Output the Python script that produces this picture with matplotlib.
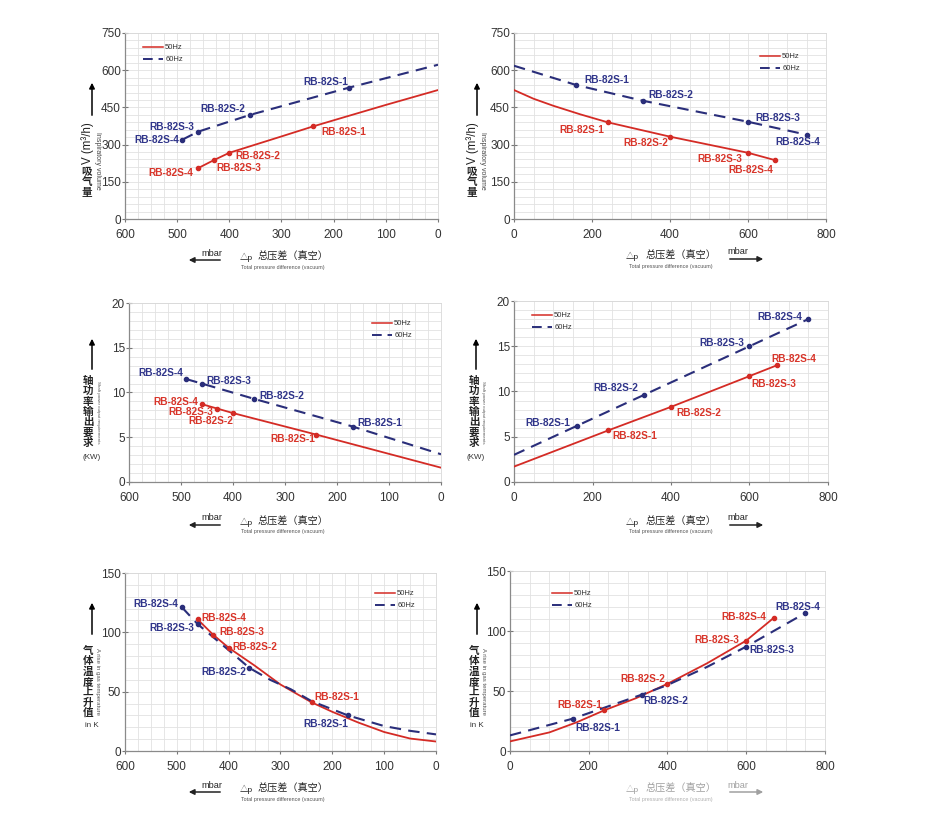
import matplotlib
matplotlib.use('Agg')
import matplotlib.pyplot as plt
from matplotlib.ticker import MultipleLocator
from matplotlib.patches import FancyArrowPatch
from matplotlib.lines import Line2D

plt.rcParams['font.family'] = ['Liberation Sans', 'Noto Sans CJK SC', 'DejaVu Sans']

# ---------------- data ----------------
models = ['RB-82S-1', 'RB-82S-2', 'RB-82S-3', 'RB-82S-4']
series_names = ['50Hz', '60Hz']

# Panel 1 (top-left): inspiratory volume (m3/h) vs pressure difference (axis reversed)
vol_l_50_x = [460, 430, 400, 350, 300, 240, 200, 100, 0]
vol_l_50_y = [205, 237, 267, 300, 333, 373, 398, 460, 520]
vol_l_60_x = [490, 460, 360, 170, 0]
vol_l_60_y = [320, 352, 420, 530, 622]
vol_l_50_pts_x = [240, 400, 430, 460]
vol_l_50_pts_y = [373, 267, 237, 205]
vol_l_60_pts_x = [170, 360, 460, 490]
vol_l_60_pts_y = [530, 420, 352, 320]

# Panel 2 (top-right): inspiratory volume vs pressure difference
vol_r_50_x = [0, 50, 100, 170, 240, 400, 600, 670]
vol_r_50_y = [520, 485, 457, 422, 390, 332, 267, 237]
vol_r_60_x = [0, 160, 330, 600, 750]
vol_r_60_y = [618, 540, 477, 392, 340]
vol_r_50_pts_x = [240, 400, 600, 670]
vol_r_50_pts_y = [390, 332, 267, 237]
vol_r_60_pts_x = [160, 330, 600, 750]
vol_r_60_pts_y = [540, 477, 392, 340]

# Panel 3 (mid-left): shaft power (kW) vs pressure difference (axis reversed)
pow_l_50_x = [460, 430, 400, 240, 0]
pow_l_50_y = [8.7, 8.2, 7.7, 5.3, 1.6]
pow_l_60_x = [490, 460, 360, 170, 0]
pow_l_60_y = [11.5, 11.0, 9.3, 6.2, 3.1]
pow_l_50_pts_x = [240, 400, 430, 460]
pow_l_50_pts_y = [5.3, 7.7, 8.2, 8.7]
pow_l_60_pts_x = [170, 360, 460, 490]
pow_l_60_pts_y = [6.2, 9.3, 11.0, 11.5]

# Panel 4 (mid-right): shaft power vs pressure difference
pow_r_50_x = [0, 240, 400, 600, 670]
pow_r_50_y = [1.7, 5.7, 8.3, 11.7, 12.9]
pow_r_60_x = [0, 160, 330, 600, 750]
pow_r_60_y = [3.0, 6.2, 9.6, 15.0, 18.0]
pow_r_50_pts_x = [240, 400, 600, 670]
pow_r_50_pts_y = [5.7, 8.3, 11.7, 12.9]
pow_r_60_pts_x = [160, 330, 600, 750]
pow_r_60_pts_y = [6.2, 9.6, 15.0, 18.0]

# Panel 5 (bottom-left): gas temperature rise (K) vs pressure difference (axis reversed)
tmp_l_50_x = [460, 430, 400, 350, 300, 240, 200, 150, 100, 50, 0]
tmp_l_50_y = [111, 98, 87, 72, 56, 41, 33, 24, 16, 10.5, 8]
tmp_l_60_x = [490, 460, 400, 360, 320, 280, 240, 170, 100, 50, 0]
tmp_l_60_y = [121, 107, 85, 70, 60, 52, 42, 30, 21, 17, 14]
tmp_l_50_pts_x = [240, 400, 430, 460]
tmp_l_50_pts_y = [41, 87, 98, 111]
tmp_l_60_pts_x = [170, 360, 460, 490]
tmp_l_60_pts_y = [30, 70, 107, 121]

# Panel 6 (bottom-right): gas temperature rise vs pressure difference
tmp_r_50_x = [0, 100, 170, 240, 320, 400, 500, 600, 670]
tmp_r_50_y = [8, 15.5, 24, 34, 44, 56, 73, 92, 111]
tmp_r_60_x = [0, 160, 335, 400, 500, 600, 750]
tmp_r_60_y = [13, 27, 47, 55, 70, 87, 115]
tmp_r_50_pts_x = [240, 400, 600, 670]
tmp_r_50_pts_y = [34, 56, 92, 111]
tmp_r_60_pts_x = [160, 335, 600, 750]
tmp_r_60_pts_y = [27, 47, 87, 115]

# y-axis label texts
vol_label_cn = '吸气量'
pow_label_cn = '轴功率输出要求'
tmp_label_cn = '气体温度上升值'

# ---------------- styling ----------------
RED = '#d42b25'
BLUE = '#2a2e7a'
RED_T = '#d8352a'
BLUE_T = '#30358a'
GRID = '#e2e2e2'

W, H = 928, 838
fig = plt.figure(figsize=(W / 100, H / 100), dpi=100)


def fx(x):
    return x / W


def fy(y):
    return 1 - y / H


def add_ax(l, t, r, b):
    return fig.add_axes([fx(l), fy(b), (r - l) / W, (b - t) / H])


def setup(ax, xlim, ylim, xmaj, xmin, ymaj, ymin):
    ax.set_xlim(*xlim)
    ax.set_ylim(*ylim)
    ax.xaxis.set_major_locator(MultipleLocator(xmaj))
    ax.xaxis.set_minor_locator(MultipleLocator(xmin))
    ax.yaxis.set_major_locator(MultipleLocator(ymaj))
    ax.yaxis.set_minor_locator(MultipleLocator(ymin))
    ax.grid(which='both', color=GRID, lw=0.6, zorder=0)
    ax.set_axisbelow(True)
    for s in ['top', 'right']:
        ax.spines[s].set_color('#d8d8d8')
        ax.spines[s].set_linewidth(0.6)
    for s in ['left', 'bottom']:
        ax.spines[s].set_color('#8a8a8a')
        ax.spines[s].set_linewidth(0.9)
    ax.tick_params(which='major', labelsize=8.5, labelcolor='#333333', color='#777777',
                   length=3, width=0.8)
    ax.tick_params(axis='y', which='major', direction='inout', length=5, pad=0.5)
    ax.tick_params(axis='x', which='major', direction='out', length=2, pad=5)
    ax.tick_params(which='minor', length=0)


def plot_series(ax, cx, cy, px, py, color, ls, offsets):
    if ls == 'solid':
        ax.plot(cx, cy, color=color, lw=1.3, zorder=3)
    else:
        ax.plot(cx, cy, color=color, lw=1.5, ls=(0, (5.5, 3.5)), zorder=3)
    ax.plot(px, py, 'o', color=color, ms=3, zorder=4)
    tcol = RED_T if color == RED else BLUE_T
    for m, x, y, (dx, dy, ha) in zip(models, px, py, offsets):
        ax.annotate(m, (x, y), xytext=(dx, dy), textcoords='offset pixels',
                    ha=ha, va='center', fontsize=7.3, fontweight='bold', color=tcol, zorder=5)


def legend(ax, x, y):
    h = [Line2D([], [], color=RED, lw=1.1),
         Line2D([], [], color=BLUE, lw=1.4, ls=(0, (5, 3)))]
    ax.legend(h, series_names, loc='upper left', bbox_to_anchor=(fx(x), fy(y)),
              bbox_transform=fig.transFigure, frameon=False, fontsize=5.5,
              handlelength=2.6, handletextpad=0.3, borderpad=0, borderaxespad=0,
              labelspacing=0.6, labelcolor='#333333')


def arrow(x0, y0, x1, y1, color='black'):
    fig.add_artist(FancyArrowPatch((fx(x0), fy(y0)), (fx(x1), fy(y1)),
                                   transform=fig.transFigure, arrowstyle='-|>',
                                   mutation_scale=8, lw=1.1, color=color))


def stacked(text, x, y_top, step):
    for i, ch in enumerate(text):
        fig.text(fx(x), fy(y_top + i * step), ch, fontsize=7.6, fontweight='bold',
                 ha='center', va='center', color='#222222',
                 family=['Noto Sans CJK SC', 'DejaVu Sans'])


def xlabel(left_side, y, light=False):
    c = '#a0a0a0' if light else '#222222'
    c2 = '#b0b0b0' if light else '#555555'
    if left_side:
        arrow(223, y + 3, 186, y + 3, c)
        fig.text(fx(212), fy(y - 4), 'mbar', fontsize=6.6, ha='center', va='center', color=c)
        fig.text(fx(246), fy(y), '△p', fontsize=6, ha='center', va='center', color=c)
        fig.text(fx(293), fy(y), '总压差（真空）', fontsize=7.3, ha='center', va='center', color=c)
        fig.text(fx(283), fy(y + 10), 'Total pressure difference (vacuum)', fontsize=3.9,
                 ha='center', va='center', color=c2)
    else:
        arrow(727, y + 3, 766, y + 3, c)
        fig.text(fx(738), fy(y - 4), 'mbar', fontsize=6.6, ha='center', va='center', color=c)
        fig.text(fx(632), fy(y), '△p', fontsize=6, ha='center', va='center', color=c)
        fig.text(fx(681), fy(y), '总压差（真空）', fontsize=7.3, ha='center', va='center', color=c)
        fig.text(fx(671), fy(y + 10), 'Total pressure difference (vacuum)', fontsize=3.9,
                 ha='center', va='center', color=c2)


# ---------------- panels ----------------
# top-left
ax = add_ax(125, 33, 438, 219)
setup(ax, (600, 0), (0, 750), 100, 25, 150, 30)
plot_series(ax, vol_l_50_x, vol_l_50_y, vol_l_50_pts_x, vol_l_50_pts_y, RED, 'solid',
            [(9, -5.5, 'left'), (6, -3, 'left'), (3, -8, 'left'), (-5, -5, 'right')])
plot_series(ax, vol_l_60_x, vol_l_60_y, vol_l_60_pts_x, vol_l_60_pts_y, BLUE, 'dash',
            [(-1, 6, 'right'), (-5, 6, 'right'), (-4, 5, 'right'), (-3, 0, 'right')])
legend(ax, 143, 44)

# top-right
ax = add_ax(514, 33, 826, 219)
setup(ax, (0, 800), (0, 750), 200, 50, 150, 30)
plot_series(ax, vol_r_50_x, vol_r_50_y, vol_r_50_pts_x, vol_r_50_pts_y, RED, 'solid',
            [(-3, -8, 'right'), (-2, -6, 'right'), (-6, -6, 'right'), (-2, -10, 'right')])
plot_series(ax, vol_r_60_x, vol_r_60_y, vol_r_60_pts_x, vol_r_60_pts_y, BLUE, 'dash',
            [(8, 5, 'left'), (6, 6, 'left'), (7, 4, 'left'), (-31, -7.5, 'left')])
legend(ax, 760, 53)

# mid-left
ax = add_ax(129, 303, 441, 482)
setup(ax, (600, 0), (0, 20), 100, 25, 5, 1)
plot_series(ax, pow_l_50_x, pow_l_50_y, pow_l_50_pts_x, pow_l_50_pts_y, RED, 'solid',
            [(-1, -4.5, 'right'), (0, -8, 'right'), (-4, -3, 'right'), (-4, 2, 'right')])
plot_series(ax, pow_l_60_x, pow_l_60_y, pow_l_60_pts_x, pow_l_60_pts_y, BLUE, 'dash',
            [(5, 4, 'left'), (6, 3, 'left'), (5, 3, 'left'), (-3, 6, 'right')])
legend(ax, 372, 320)

# mid-right
ax = add_ax(514, 301, 828, 482)
setup(ax, (0, 800), (0, 20), 200, 50, 5, 1)
plot_series(ax, pow_r_50_x, pow_r_50_y, pow_r_50_pts_x, pow_r_50_pts_y, RED, 'solid',
            [(4, -6, 'left'), (5, -6, 'left'), (2, -8, 'left'), (-6, 6, 'left')])
plot_series(ax, pow_r_60_x, pow_r_60_y, pow_r_60_pts_x, pow_r_60_pts_y, BLUE, 'dash',
            [(-7, 3, 'right'), (-5, 7, 'right'), (-5, 3, 'right'), (-6, 2, 'right')])
legend(ax, 532, 312)

# bottom-left
ax = add_ax(125, 573, 436, 751)
setup(ax, (600, 0), (0, 150), 100, 25, 50, 10)
plot_series(ax, tmp_l_50_x, tmp_l_50_y, tmp_l_50_pts_x, tmp_l_50_pts_y, RED, 'solid',
            [(3, 5, 'left'), (4, 1, 'left'), (6, 3, 'left'), (4, 1, 'left')])
plot_series(ax, tmp_l_60_x, tmp_l_60_y, tmp_l_60_pts_x, tmp_l_60_pts_y, BLUE, 'dash',
            [(0, -9, 'right'), (-3, -4, 'right'), (-3, -4, 'right'), (-4, 3, 'right')])
legend(ax, 375, 590)

# bottom-right
ax = add_ax(510, 571, 825, 751)
setup(ax, (0, 800), (0, 150), 200, 50, 50, 10)
plot_series(ax, tmp_r_50_x, tmp_r_50_y, tmp_r_50_pts_x, tmp_r_50_pts_y, RED, 'solid',
            [(-2, 5, 'right'), (-2, 5, 'right'), (-7, 1, 'right'), (-8, 1, 'right')])
plot_series(ax, tmp_r_60_x, tmp_r_60_y, tmp_r_60_pts_x, tmp_r_60_pts_y, BLUE, 'dash',
            [(2, -9, 'left'), (1, -6, 'left'), (3, -3, 'left'), (-30, 6, 'left')])
legend(ax, 552, 590)

# ---------------- y labels ----------------
# volume labels
for xa, xv, xe in [(92, 87, 98), (477, 472, 483)]:
    arrow(xa, 118, xa, 80)
    fig.text(fx(xv + 1), fy(143), 'V (m³/h)', rotation=90, fontsize=8.3, ha='center',
             va='center', color='#222222')
    stacked(vol_label_cn, xv, 172, 10.3)
    fig.text(fx(xe), fy(161), 'Inspiratory volume', rotation=270, fontsize=5.0,
             ha='center', va='center', color='#444444')

# power labels
for xa, xv, xe in [(92, 88, 98), (476, 474, 483)]:
    arrow(xa, 372, xa, 336)
    stacked(pow_label_cn, xv, 381, 10.3)
    fig.text(fx(xa), fy(457), '(KW)', fontsize=5.8, ha='center', va='center', color='#333333')
    fig.text(fx(xe), fy(412), 'Shaft power output requirements', rotation=270, fontsize=3.2,
             ha='center', va='center', color='#555555')

# temperature labels
for xa, xv, xe in [(92, 88, 98), (477, 474, 484)]:
    arrow(xa, 637, xa, 600)
    stacked(tmp_label_cn, xv, 651, 10.3)
    fig.text(fx(xa), fy(725), 'in K', fontsize=5.8, ha='center', va='center', color='#333333')
    fig.text(fx(xe), fy(681), 'A rise in gas temperature', rotation=270, fontsize=4.3,
             ha='center', va='center', color='#555555')

# ---------------- x labels ----------------
xlabel(True, 257)
xlabel(False, 256)
xlabel(True, 522)
xlabel(False, 522)
xlabel(True, 789)
xlabel(False, 789, light=True)

fig.savefig('out.png', dpi=100, facecolor='white')
